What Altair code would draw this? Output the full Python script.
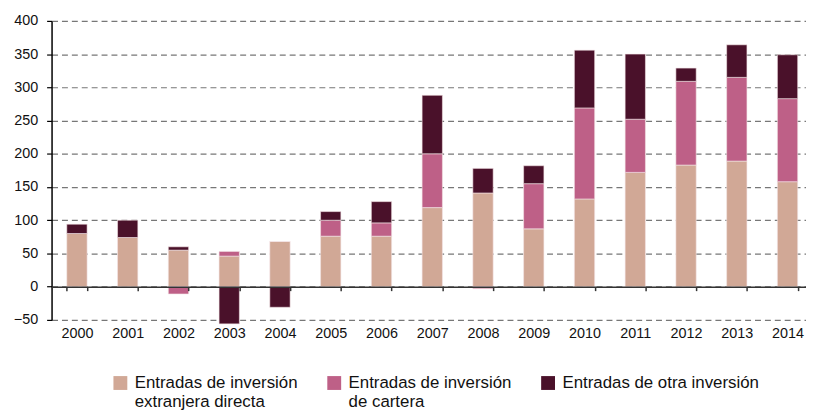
import altair as alt
import pandas as pd

years = [str(y) for y in range(2000, 2015)]
fdi = [80, 74, 55, 46, 68, 76, 76, 119, 141, 87, 132, 172, 183, 189, 158]
portfolio = [0, 0, -11, 7, 0, 24, 20, 81, -3, 68, 137, 80, 126, 126, 125]
other = [14, 26, 5, -56, -31, 13, 32, 88, 37, 27, 87, 98, 20, 49, 66]

series = [
    "Entradas de inversión|extranjera directa",
    "Entradas de inversión|de cartera",
    "Entradas de otra inversión|",
]
colors = ["#D1A896", "#BE6087", "#4A112A"]

rows = []
for i, y in enumerate(years):
    for k, (name, vals) in enumerate(zip(series, [fdi, portfolio, other])):
        rows.append({"year": y, "serie": name, "valor": vals[i], "orden": k})
df = pd.DataFrame(rows)

W, H = 762, 302
FONT = "Liberation Sans"

chart = (
    alt.Chart(df)
    .mark_bar(stroke="#f4e4e6", strokeWidth=0.6)
    .encode(
        x=alt.X(
            "year:N",
            sort=years,
            scale=alt.Scale(range=[0, 769], paddingInner=0.6, paddingOuter=0.3),
            axis=alt.Axis(
                title=None,
                offset=-H * 50 / 450,
                tickBand="extent",
                domainColor="#333333",
                domainWidth=1.5,
                tickColor="#333333",
                tickSize=4,
                tickWidth=1.5,
                labelPadding=36,
                labelFontSize=14.5,
                labelFont=FONT,
                labelColor="#111111",
                labelAngle=0,
                grid=False,
                zindex=1,
            ),
        ),
        y=alt.Y(
            "valor:Q",
            stack="zero",
            scale=alt.Scale(domain=[-50, 400], nice=False, zero=False),
            axis=alt.Axis(
                title=None,
                values=list(range(-50, 401, 50)),
                domainColor="#000000",
                domainWidth=1.5,
                tickColor="#000000",
                tickSize=5,
                tickWidth=1.2,
                labelPadding=9,
                labelFontSize=14.5,
                labelFont=FONT,
                labelColor="#111111",
                gridColor="#777777",
                gridDash=[6, 4],
                gridWidth=1.2,
            ),
        ),
        color=alt.Color(
            "serie:N",
            sort=series,
            scale=alt.Scale(domain=series, range=colors),
            legend=alt.Legend(
                orient="none",
                legendX=61,
                legendY=357,
                direction="horizontal",
                columns=3,
                title=None,
                labelFontSize=17,
                labelFont=FONT,
                labelColor="#111111",
                labelExpr="split(datum.label, '|')",
                labelBaseline="middle",
                labelLimit=400,
                labelOffset=6,
                symbolType="square",
                symbolSize=196,
                symbolStrokeWidth=0,
                symbolOpacity=1,
                columnPadding=28,
                padding=0,
            ),
        ),
        order=alt.Order("orden:Q"),
    )
    .properties(
        width=W,
        height=H,
        autosize=alt.AutoSizeParams(type="none"),
        padding={"left": 44, "top": 11, "right": 0, "bottom": 90},
    )
    .configure_view(stroke=None)
)

chart.save("out.html", embed_options={"renderer": "svg", "actions": False})
